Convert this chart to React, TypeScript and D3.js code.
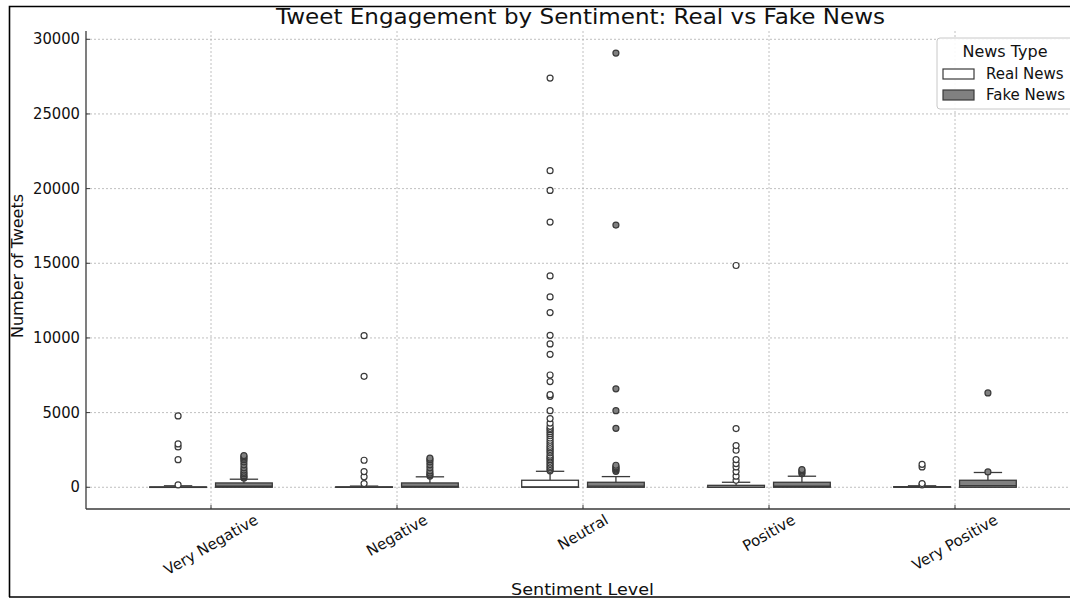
import React from "react";
import * as d3 from "d3";

// sentiment categories and box statistics
const categories = ["Very Negative", "Negative", "Neutral", "Positive", "Very Positive"];
const groups = ["Real News", "Fake News"];

const realQ1 = [0, 0, 0, 0, 0];
const realMedian = [5, 5, 20, 10, 5];
const realQ3 = [25, 30, 470, 130, 40];
const realWhisker = [100, 80, 1070, 335, 100];
const realOutliers = [
  [160, 1850, 2700, 2900, 4780],
  [250, 700, 1050, 1810, 7430, 10150],
  [1100, 1200, 1300, 1400, 1520, 1620, 1740, 1850, 1950, 2035, 2150, 2300, 2420, 2525, 2640, 2745,
    2880, 3010, 3150, 3300, 3450, 3590, 3720, 3860, 3950, 4080, 4300, 4600, 5130, 6090, 6200,
    7075, 7520, 8900, 9600, 10175, 11700, 12750, 14150, 17760, 19880, 21200, 27400],
  [470, 740, 1050, 1365, 1590, 1855, 2480, 2790, 3930, 14850],
  [160, 250, 1365, 1540],
];

const fakeQ1 = [0, 0, 0, 0, 0];
const fakeMedian = [70, 60, 80, 70, 110];
const fakeQ3 = [290, 290, 335, 335, 470];
const fakeWhisker = [540, 700, 715, 740, 990];
const fakeOutliers = [
  [620, 700, 780, 900, 1000, 1150, 1300, 1500, 1700, 1850, 1950, 2050, 2120],
  [750, 850, 950, 1100, 1300, 1500, 1700, 1850, 1950],
  [1070, 1150, 1230, 1300, 1365, 1475, 3950, 5130, 6590, 17560, 29080],
  [900, 1000, 1100, 1185],
  [1030, 6320],
];

const yTicks = [0, 5000, 10000, 15000, 20000, 25000, 30000];

const FONT = "DejaVu Sans, sans-serif";
const EDGE = "#3a3a3a";
const GRID = "#b0b0b0";
const fills = ["#ffffff", "#808080"];

const measure = (s: string, size: number) => {
  const ctx = document.createElement("canvas").getContext("2d");
  if (!ctx) return s.length * size * 0.55;
  ctx.font = `${size}px DejaVu Sans`;
  return ctx.measureText(s).width;
};

const App = () => {
  const left = 86;
  const right = 1080;
  const top = 31;
  const bottom = 509;

  const x = d3.scalePoint<string>().domain(categories).range([211, 955]);
  const step = x.step();
  const y = d3.scaleLinear().domain([-1455, 30555]).range([bottom, top]);

  const offset = step * 0.177;
  const boxW = step * 0.305;

  const stats = [
    { q1: realQ1, med: realMedian, q3: realQ3, wh: realWhisker, out: realOutliers },
    { q1: fakeQ1, med: fakeMedian, q3: fakeQ3, wh: fakeWhisker, out: fakeOutliers },
  ];

  return (
    <svg width={1070} height={598} style={{ position: "absolute", left: 0, top: 0, background: "#fff" }}
      fontFamily={FONT}>
      {/* grid */}
      {yTicks.map((t) => (
        <line key={"gy" + t} x1={left} x2={right} y1={y(t)} y2={y(t)}
          stroke={GRID} strokeWidth={0.8} strokeDasharray="2,2" />
      ))}
      {categories.map((c) => (
        <line key={"gx" + c} x1={x(c)} x2={x(c)} y1={top} y2={bottom}
          stroke={GRID} strokeWidth={0.8} strokeDasharray="2,2" />
      ))}

      {/* boxes */}
      {stats.map((s, gi) =>
        categories.map((c, ci) => {
          const cx = (x(c) as number) + (gi === 0 ? -offset : offset);
          const capW = boxW / 2;
          return (
            <g key={gi + "-" + c}>
              <line x1={cx} x2={cx} y1={y(s.q3[ci])} y2={y(s.wh[ci])} stroke={EDGE} strokeWidth={1.3} />
              <line x1={cx - capW / 2} x2={cx + capW / 2} y1={y(s.wh[ci])} y2={y(s.wh[ci])}
                stroke={EDGE} strokeWidth={1.3} />
              <rect x={cx - boxW / 2} width={boxW} y={y(s.q3[ci])}
                height={Math.max(y(s.q1[ci]) - y(s.q3[ci]), 0.5)}
                fill={fills[gi]} stroke={EDGE} strokeWidth={1.3} />
              <line x1={cx - boxW / 2} x2={cx + boxW / 2} y1={y(s.med[ci])} y2={y(s.med[ci])}
                stroke={EDGE} strokeWidth={1.3} />
              {s.out[ci].map((v, k) => (
                <circle key={k} cx={cx} cy={y(v)} r={3} fill={fills[gi]} stroke={EDGE} strokeWidth={1.2} />
              ))}
            </g>
          );
        })
      )}

      {/* spines and ticks */}
      <line x1={left} x2={left} y1={top} y2={bottom} stroke={EDGE} strokeWidth={1.3} />
      <line x1={left} x2={right} y1={bottom} y2={bottom} stroke={EDGE} strokeWidth={1.3} />
      {yTicks.map((t) => {
        const s = String(t);
        return (
          <g key={"ty" + t}>
            <line x1={left} x2={left + 4} y1={y(t)} y2={y(t)} stroke={EDGE} strokeWidth={1} />
            <text x={80} y={y(t)} dominantBaseline="central" textAnchor="end" fontSize={15.5} fill="#111"
              textLength={s.length * 9.4} lengthAdjust="spacingAndGlyphs">
              {s}
            </text>
          </g>
        );
      })}
      {categories.map((c) => {
        const L = measure(c, 15);
        const cy = 512 + (L / 2 + 13) / 2;
        return (
          <g key={"tx" + c}>
            <line x1={x(c)} x2={x(c)} y1={bottom} y2={bottom - 4} stroke={EDGE} strokeWidth={1} />
            <text x={x(c)} y={cy} textAnchor="middle" dominantBaseline="central" fontSize={15} fill="#111"
              transform={`rotate(-30, ${x(c)}, ${cy})`}>
              {c}
            </text>
          </g>
        );
      })}

      {/* titles */}
      <text x={580.5} y={24} textAnchor="middle" fontSize={21.5} fill="#111"
        textLength={609} lengthAdjust="spacingAndGlyphs">
        Tweet Engagement by Sentiment: Real vs Fake News
      </text>
      <text transform={`translate(23, 266) rotate(-90)`} textAnchor="middle" fontSize={16} fill="#111"
        textLength={144} lengthAdjust="spacingAndGlyphs">
        Number of Tweets
      </text>
      <text x={582.5} y={595} textAnchor="middle" fontSize={16} fill="#111"
        textLength={143} lengthAdjust="spacingAndGlyphs">
        Sentiment Level
      </text>

      {/* legend */}
      <g>
        <rect x={937} y={38} width={140} height={71} rx={3} fill="#fff" fillOpacity={0.9}
          stroke="#c8c8c8" strokeWidth={1} />
        <text x={1005} y={57} textAnchor="middle" fontSize={16} fill="#111">News Type</text>
        {groups.map((g, i) => (
          <g key={g}>
            <rect x={943} y={69 + i * 21} width={31} height={10} fill={fills[i]} stroke={EDGE} strokeWidth={1.2} />
            <text x={986} y={79 + i * 21} fontSize={15} fill="#111">{g}</text>
          </g>
        ))}
      </g>

      {/* page frame around the figure */}
      <path d="M9.5,597 V6.5 H1070" fill="none" stroke="#000" strokeWidth={1.6} />
      <line x1={9} x2={1070} y1={597} y2={597} stroke="#000" strokeWidth={1.6} />
    </svg>
  );
};

export default App;
